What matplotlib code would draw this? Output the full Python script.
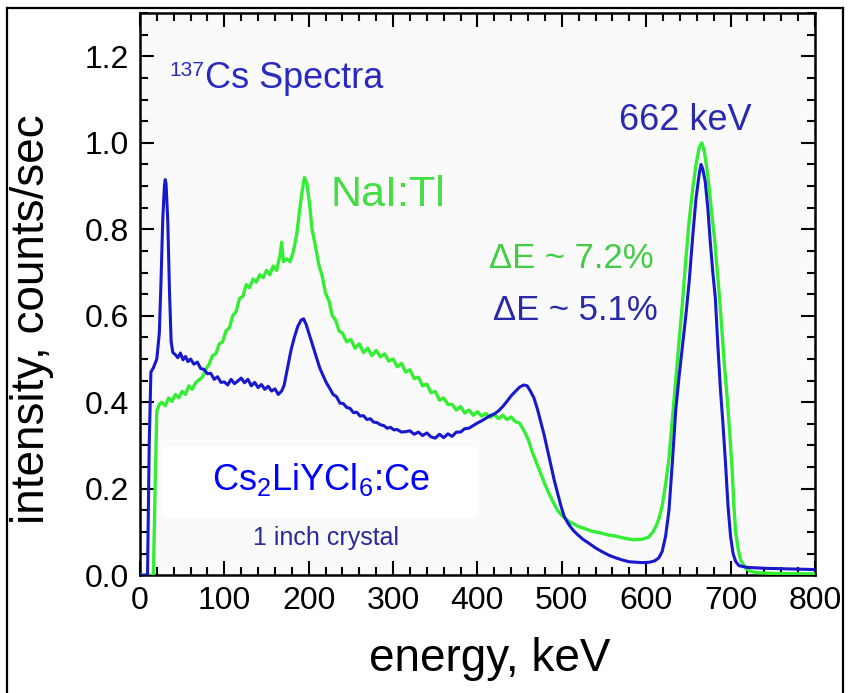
import matplotlib
matplotlib.use("Agg")
import matplotlib.pyplot as plt
from matplotlib.lines import Line2D
from matplotlib.patches import Rectangle

plt.rcParams['font.family'] = ['Liberation Sans', 'DejaVu Sans']
plt.rcParams['mathtext.fontset'] = 'custom'
plt.rcParams['mathtext.rm'] = 'Liberation Sans'
plt.rcParams['mathtext.it'] = 'Liberation Sans'

# Cs2LiYCl6:Ce spectrum (energy keV, intensity)
clyc_spectrum = [
    (0, 0.0), (9, 0.0), (11, 0.30), (13, 0.47), (16, 0.48), (20, 0.50), (23, 0.56),
    (25, 0.68), (27, 0.82), (29, 0.90), (30, 0.915), (31, 0.905), (33, 0.82),
    (35, 0.66), (37, 0.54), (39, 0.515), (42, 0.51), (45, 0.503), (48, 0.514),
    (51, 0.498), (54, 0.506), (57, 0.494), (60, 0.50), (64, 0.488), (68, 0.493),
    (72, 0.478), (76, 0.476), (80, 0.466), (84, 0.467), (88, 0.453), (92, 0.459),
    (96, 0.446), (100, 0.447), (104, 0.44), (108, 0.453), (112, 0.443), (116, 0.449),
    (120, 0.456), (124, 0.445), (128, 0.453), (132, 0.438), (136, 0.446), (140, 0.434),
    (144, 0.441), (148, 0.43), (152, 0.437), (156, 0.426), (160, 0.431), (164, 0.418),
    (168, 0.426), (171, 0.44), (175, 0.48), (179, 0.52), (183, 0.55), (187, 0.575),
    (191, 0.59), (194, 0.593), (197, 0.58), (201, 0.555), (205, 0.53), (209, 0.505),
    (213, 0.48), (217, 0.462), (221, 0.445), (225, 0.432), (229, 0.418), (233, 0.413),
    (237, 0.398), (241, 0.397), (245, 0.388), (249, 0.386), (253, 0.376), (257, 0.377),
    (261, 0.368), (265, 0.369), (269, 0.36), (273, 0.362), (277, 0.354), (281, 0.353),
    (285, 0.348), (289, 0.346), (293, 0.34), (297, 0.342), (301, 0.336), (305, 0.337),
    (310, 0.331), (315, 0.332), (320, 0.334), (325, 0.326), (330, 0.331), (335, 0.323),
    (340, 0.329), (345, 0.32), (350, 0.317), (355, 0.326), (360, 0.318), (365, 0.327),
    (370, 0.321), (375, 0.331), (380, 0.331), (385, 0.339), (390, 0.34), (395, 0.346),
    (400, 0.352), (405, 0.357), (410, 0.363), (415, 0.369), (420, 0.373), (425, 0.38),
    (430, 0.39), (435, 0.402), (440, 0.415), (445, 0.425), (450, 0.435), (455, 0.44),
    (459, 0.438), (463, 0.425), (467, 0.41), (471, 0.385), (475, 0.355), (479, 0.325),
    (483, 0.29), (487, 0.255), (491, 0.22), (495, 0.19), (499, 0.16), (503, 0.135),
    (508, 0.118), (513, 0.105), (518, 0.095), (525, 0.083), (532, 0.074), (540, 0.063),
    (548, 0.054), (556, 0.046), (564, 0.04), (572, 0.035), (580, 0.031), (588, 0.03),
    (596, 0.029), (604, 0.03), (610, 0.033), (615, 0.04), (619, 0.055), (623, 0.09),
    (627, 0.15), (631, 0.26), (635, 0.38), (639, 0.46), (643, 0.53), (647, 0.60),
    (651, 0.68), (655, 0.78), (659, 0.87), (663, 0.93), (665, 0.95), (667, 0.94),
    (670, 0.91), (673, 0.85), (676, 0.77), (679, 0.70), (682, 0.64), (685, 0.53),
    (688, 0.43), (691, 0.35), (694, 0.26), (697, 0.16), (700, 0.09), (703, 0.05),
    (706, 0.032), (710, 0.022), (720, 0.018), (740, 0.016), (760, 0.015), (780, 0.014),
    (800, 0.013),
]

# NaI:Tl spectrum (energy keV, intensity)
nai_spectrum = [
    (0, 0.0), (16, 0.0), (18, 0.2), (20, 0.38), (23, 0.395), (26, 0.40), (30, 0.392),
    (34, 0.41), (38, 0.402), (42, 0.418), (46, 0.41), (50, 0.425), (54, 0.418),
    (58, 0.438), (62, 0.43), (66, 0.445), (70, 0.452), (74, 0.458), (78, 0.476),
    (82, 0.488), (86, 0.508), (90, 0.512), (94, 0.535), (98, 0.54), (102, 0.565),
    (106, 0.572), (110, 0.60), (114, 0.61), (118, 0.64), (122, 0.645), (126, 0.672),
    (130, 0.665), (134, 0.685), (138, 0.678), (142, 0.695), (146, 0.688), (150, 0.705),
    (154, 0.695), (158, 0.715), (162, 0.705), (166, 0.74), (168, 0.77), (170, 0.725),
    (174, 0.732), (178, 0.725), (182, 0.75), (186, 0.79), (189, 0.84), (192, 0.885),
    (195, 0.92), (198, 0.905), (201, 0.86), (204, 0.80), (208, 0.762), (212, 0.718),
    (216, 0.692), (220, 0.652), (224, 0.635), (228, 0.60), (232, 0.59), (236, 0.565),
    (240, 0.56), (245, 0.54), (250, 0.545), (255, 0.525), (260, 0.535), (265, 0.515),
    (270, 0.525), (275, 0.508), (280, 0.52), (285, 0.505), (290, 0.512), (295, 0.495),
    (300, 0.50), (305, 0.482), (310, 0.49), (315, 0.47), (320, 0.475), (325, 0.455),
    (330, 0.458), (335, 0.438), (340, 0.442), (345, 0.422), (350, 0.425), (355, 0.405),
    (360, 0.41), (365, 0.395), (370, 0.395), (375, 0.382), (380, 0.39), (385, 0.375),
    (390, 0.382), (395, 0.37), (400, 0.378), (405, 0.368), (410, 0.374), (415, 0.365),
    (420, 0.372), (425, 0.362), (430, 0.37), (435, 0.36), (440, 0.366), (445, 0.355),
    (450, 0.352), (455, 0.335), (460, 0.315), (465, 0.285), (470, 0.26), (475, 0.235),
    (480, 0.21), (485, 0.188), (490, 0.168), (495, 0.15), (500, 0.138), (505, 0.13),
    (510, 0.122), (515, 0.118), (520, 0.112), (527, 0.108), (535, 0.102), (545, 0.098),
    (555, 0.093), (565, 0.09), (575, 0.085), (585, 0.082), (595, 0.083), (603, 0.088),
    (608, 0.10), (612, 0.115), (615, 0.13), (619, 0.16), (623, 0.21), (627, 0.27),
    (631, 0.36), (635, 0.45), (639, 0.54), (643, 0.63), (647, 0.73), (651, 0.82),
    (655, 0.89), (659, 0.95), (663, 0.99), (666, 1.0), (669, 0.98), (672, 0.94),
    (675, 0.89), (678, 0.83), (681, 0.78), (684, 0.71), (687, 0.64), (690, 0.56),
    (693, 0.48), (696, 0.41), (699, 0.33), (702, 0.24), (704, 0.16), (706, 0.10),
    (709, 0.06), (712, 0.035), (717, 0.018), (722, 0.01), (730, 0.006), (750, 0.004),
    (800, 0.003),
]

x_ticks = [0, 100, 200, 300, 400, 500, 600, 700, 800]
y_ticks = [0.0, 0.2, 0.4, 0.6, 0.8, 1.0, 1.2]

fig = plt.figure(figsize=(8.48, 6.93), dpi=100, facecolor='white')
ax = fig.add_axes([0.165, 0.170, 0.796, 0.811])
ax.set_facecolor('#fafafa')

e_c, i_c = zip(*clyc_spectrum)
e_n, i_n = zip(*nai_spectrum)
ax.plot(e_n, i_n, color='#33ee33', lw=2.4, zorder=3)
ax.plot(e_c, i_c, color='#1818cc', lw=2.2, zorder=4)

ax.set_xlim(0, 800)
ax.set_ylim(0, 1.3)
ax.set_xticks(x_ticks)
ax.set_yticks(y_ticks)
ax.set_yticklabels([f'{v:.1f}' for v in y_ticks])
ax.set_xticks(range(0, 801, 20), minor=True)
ax.set_yticks([k * 0.05 for k in range(27)], minor=True)
ax.tick_params(which='both', direction='in', top=True, right=True, labelsize=23, width=1.5)
ax.tick_params(which='major', length=10, pad=8)
ax.tick_params(which='minor', length=6)
for s in ax.spines.values():
    s.set_linewidth(1.8)

ax.set_xlabel('energy, keV', fontsize=33)
ax.set_ylabel('intensity, counts/sec', fontsize=33)
ax.xaxis.set_label_coords(0.519, -0.11)
ax.yaxis.set_label_coords(-0.128, 0.455)

# labels
ax.text(35, 1.155, '137', fontsize=15, color='#2a2ac0')
ax.text(77, 1.128, 'Cs Spectra', fontsize=26, color='#2a2ac0')
ax.text(226, 0.853, 'NaI:Tl', fontsize=31, color='#44dd44')
ax.text(568, 1.03, '662 keV', fontsize=26, color='#2a2ab0')
ax.text(414, 0.711, 'ΔE ~ 7.2%', fontsize=25, color='#44cc44')
ax.text(419, 0.59, 'ΔE ~ 5.1%', fontsize=25, color='#2a2aa8')

ax.add_patch(Rectangle((27, 0.132), 372, 0.165, facecolor='white', edgecolor='none', zorder=2))
ax.text(86, 0.197, r'Cs$_2$LiYCl$_6$:Ce', fontsize=26, color='#0000ff', zorder=5)
ax.text(134, 0.07, '1 inch crystal', fontsize=18, color='#2a2a9a', zorder=5)

# outer frame of the figure
for xs, ys in [([7/848, 7/848], [0, 1 - 8/693]),
               ([7/848, 843/848], [1 - 8/693, 1 - 8/693]),
               ([843/848, 843/848], [0, 1 - 8/693])]:
    fig.add_artist(Line2D(xs, ys, color='black', lw=1.6))

fig.savefig('out.png', dpi=100)
